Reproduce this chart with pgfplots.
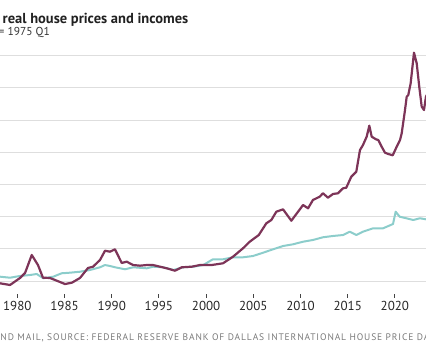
\documentclass[border=0pt]{standalone}
\usepackage{pgfplots}
\pgfplotsset{compat=1.18}
\usepackage{fontspec}
\setmainfont{PT Sans}
\definecolor{maroon}{HTML}{7D3458}
\definecolor{teal}{HTML}{8CCDCB}
\definecolor{gridc}{HTML}{DEDEDE}
\definecolor{tickc}{HTML}{444444}
\definecolor{srcc}{HTML}{7A7A7A}
\begin{document}
\begin{tikzpicture}[x=1pt,y=1pt]
\begin{axis}[
  at={(-29.9pt,57.12pt)}, anchor=south west,
  scale only axis, width=457.84pt, height=244.72pt,
  xmin=1975, xmax=2023.5, ymin=80, ymax=460,
  axis line style={draw=none},
  ytick={100,150,...,450}, yticklabels={},
  ymajorgrids, grid style={gridc, line width=0.8pt},
  ytick style={draw=none},
  xtick={1975,1980,...,2020},
  xtick style={tickc, line width=1pt},
  major tick length=4pt, tick align=outside,
  xtick pos=bottom,
  /pgf/number format/assume math mode=true,
  xticklabel={\pgfmathprintnumber[1000 sep={}, fixed, precision=0]{\tick}},
  xticklabel style={font=\fontsize{13}{13}\selectfont, text=black!85, anchor=base, yshift=-13pt},
  clip=true,
]
\addplot[teal, line width=2pt, line join=round] coordinates {
(1975.0,100) (1976.0,103) (1977.0,105) (1978.17,106.7) (1979.23,105.1) (1980.29,107.8)
(1981.35,109.3) (1982.06,110.9) (1982.75,104.2) (1983.81,106.7) (1984.70,112.0)
(1985.58,112.9) (1986.64,114.4) (1987.70,117.1) (1988.76,121.3) (1989.29,124.8)
(1989.82,123.3) (1990.35,121.3) (1991.41,118.2) (1992.29,121.3) (1993.71,119.7)
(1994.41,122.2) (1995.47,121.3) (1996.53,117.1) (1997.58,121.3) (1998.64,122.2)
(1999.70,124.8) (2000.59,132.6) (2000.73,133.7) (2001.79,133.7) (2002.85,136.8)
(2003.91,136.8) (2004.97,138.8) (2006.03,143.9) (2007.09,149.2) (2008.15,154.3)
(2009.21,157.0) (2010.27,161.0) (2011.32,163.7) (2012.38,167.9) (2013.44,169.9)
(2014.50,171.4) (2015.21,176.6) (2015.91,171.4) (2016.62,176.6) (2017.68,181.8)
(2018.74,181.8) (2019.80,188.5) (2020.08,207.6) (2020.51,199.8) (2021.21,197.4)
(2021.94,194.7) (2022.65,197.4) (2023.29,195.8) (2023.5,196.5)
};
\addplot[maroon, line width=2.2pt, line join=round] coordinates {
(1975.0,100) (1976.0,104) (1977.0,101) (1978.17,96.4) (1979.23,93.8) (1980.29,104.7)
(1980.82,112.4) (1981.53,140.4) (1982.19,124.8) (1982.72,105.1) (1983.46,104.7)
(1983.99,101.6) (1985.05,95.3) (1985.79,97.4) (1986.64,104.7) (1987.49,120.2)
(1988.02,122.2) (1988.76,132.6) (1989.29,147.0) (1989.82,145.5) (1990.35,149.2)
(1991.06,128.0) (1991.59,130.0) (1992.26,124.8) (1993.00,123.8) (1993.71,124.8)
(1994.37,124.8) (1995.12,122.2) (1995.83,119.7) (1996.71,116.0) (1997.42,121.3)
(1998.47,122.2) (1999.35,124.8) (2000.59,124.8) (2001.79,127.5) (2002.85,137.7)
(2003.91,150.8) (2004.62,161.0) (2005.58,171.4) (2006.38,189.6) (2006.91,194.7)
(2007.44,207.6) (2008.15,211.3) (2009.03,193.6) (2009.74,207.6) (2010.27,218.0)
(2010.80,212.9) (2011.32,225.8) (2012.03,230.9) (2012.38,236.2) (2012.91,229.4)
(2013.44,235.1) (2013.97,236.2) (2014.50,243.9) (2014.85,244.9) (2015.38,262.0)
(2015.91,269.7) (2016.30,303.4) (2016.62,311.2) (2017.01,324.1) (2017.29,341.2)
(2017.54,324.1) (2018.00,320.0) (2018.24,318.9) (2018.60,308.5) (2018.95,299.2)
(2019.30,297.2) (2019.77,295.2) (2020.19,308.5) (2020.54,318.9) (2020.72,329.3)
(2021.07,365.5) (2021.25,386.2) (2021.42,388.8) (2021.67,407.0) (2022.02,454.5)
(2022.31,438.0) (2022.58,401.7) (2022.84,370.7) (2023.08,365.5) (2023.29,386.2)
(2023.5,392.0)
};
\end{axis}
% title block (partly cut off at the left edge, as in the reference)
\node[anchor=base east, font=\fontsize{14.5}{14.5}\selectfont\bfseries, text=black!87] at (-2pt,327.7pt) {Canada's};
\node[anchor=base west, font=\fontsize{14.5}{14.5}\selectfont\bfseries, text=black!87, inner sep=0pt] at (2.5pt,327.7pt) {real house prices and incomes};
\node[anchor=base east, font=\fontsize{11.5}{11.5}\selectfont, text=black!80, inner sep=0pt] at (-3pt,315pt) {Index, 100};
\node[anchor=base west, font=\fontsize{11.5}{11.5}\selectfont, text=black!80, inner sep=0pt] at (-1.5pt,315pt) {= 1975 Q1};
% source line
\node[anchor=base east, font=\fontsize{9.5}{9.5}\selectfont\addfontfeatures{LetterSpace=9.3}, text=srcc, inner sep=0pt] at (-0.3pt,11pt) {THE GLOBE A};
\node[anchor=base west, font=\fontsize{9.5}{9.5}\selectfont\addfontfeatures{LetterSpace=9.3}, text=srcc, inner sep=0pt] at (0.3pt,11pt) {ND MAIL, SOURCE: FEDERAL RESERVE BANK OF DALLAS INTERNATIONAL HOUSE PRICE DATABASE};
\pgfresetboundingbox
\path[use as bounding box] (0,0) rectangle (426pt,351pt);
\end{tikzpicture}
\end{document}
